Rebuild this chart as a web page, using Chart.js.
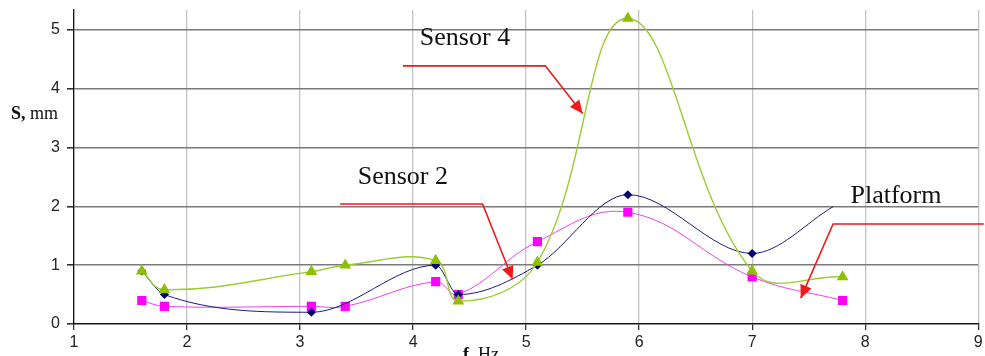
<!DOCTYPE html>
<html>
<head>
<meta charset="utf-8">
<script src="https://cdn.jsdelivr.net/npm/chart.js@4/dist/chart.umd.min.js"></script>
<style>
  html, body { margin: 0; padding: 0; background: #fff; }
  #wrap { width: 985px; height: 356px; position: relative; }
</style>
</head>
<body>
<div id="wrap"><canvas id="c"></canvas></div>
<script>
// Measurement frequencies (Hz)
const freqs = [1.6, 1.8, 3.1, 3.4, 4.2, 4.4, 5.1, 5.9, 7.0, 7.8];

// Displacement S (mm) for each measurement point
const platformFreqs = [1.6, 1.8, 3.1, 4.2, 4.4, 5.1, 5.9, 7.0, 7.72];
const platformS     = [0.9, 0.5, 0.2, 1.0, 0.5, 1.0, 2.2, 1.2, 2.0];
const sensor2S      = [0.4, 0.3, 0.3, 0.3, 0.72, 0.5, 1.4, 1.9, 0.8, 0.4];
const sensor4S      = [0.9, 0.58, 0.89, 1.0, 1.08, 0.39, 1.05, 5.2, 0.9, 0.8];

// Axis ticks
const xTicks = [1, 2, 3, 4, 5, 6, 7, 8, 9];
const yTicks = [0, 1, 2, 3, 4, 5];

// Callout labels with their arrows, given in axis units
const callouts = [
  { text: 'Sensor 4', at: [4.06, 4.86], path: [[3.91, 4.39], [5.17, 4.39], [5.50, 3.58]] },
  { text: 'Sensor 2', at: [3.51, 2.50], path: [[3.355, 2.04], [4.615, 2.04], [4.88, 0.76]] },
  { text: 'Platform', at: [7.87, 2.18], path: [[9.05, 1.70], [7.716, 1.70], [7.43, 0.44]] }
];

const toXY = (xs, ys) => ys.map((y, i) => ({ x: xs[i], y }));

const calloutPlugin = {
  id: 'callouts',
  afterDraw(chart) {
    const { ctx, scales: { x, y } } = chart;
    ctx.save();
    callouts.forEach(c => {
      const pts = c.path.map(p => [x.getPixelForValue(p[0]), y.getPixelForValue(p[1])]);
      ctx.strokeStyle = '#f01818';
      ctx.lineWidth = 1.6;
      ctx.beginPath();
      ctx.moveTo(pts[0][0], pts[0][1]);
      for (let i = 1; i < pts.length; i++) ctx.lineTo(pts[i][0], pts[i][1]);
      ctx.stroke();
      // arrow head
      const a = pts[pts.length - 2], b = pts[pts.length - 1];
      const ang = Math.atan2(b[1] - a[1], b[0] - a[0]);
      const L = 13, W = 6;
      ctx.fillStyle = '#f01818';
      ctx.beginPath();
      ctx.moveTo(b[0], b[1]);
      ctx.lineTo(b[0] - L * Math.cos(ang) + W * Math.sin(ang), b[1] - L * Math.sin(ang) - W * Math.cos(ang));
      ctx.lineTo(b[0] - L * Math.cos(ang) - W * Math.sin(ang), b[1] - L * Math.sin(ang) + W * Math.cos(ang));
      ctx.closePath();
      ctx.fill();
      // label
      ctx.fillStyle = '#111';
      ctx.font = '26px "Liberation Serif", "Times New Roman", serif';
      ctx.textBaseline = 'middle';
      ctx.textAlign = 'left';
      ctx.fillText(c.text, x.getPixelForValue(c.at[0]), y.getPixelForValue(c.at[1]));
    });

    // axis titles: bold symbol, regular unit
    const drawTitle = (bold, rest, px, py) => {
      ctx.textBaseline = 'alphabetic';
      ctx.textAlign = 'left';
      ctx.fillStyle = '#111';
      ctx.font = 'bold 18px "Liberation Serif", serif';
      ctx.fillText(bold, px, py);
      const w = ctx.measureText(bold).width;
      ctx.font = '18px "Liberation Serif", serif';
      ctx.fillText(rest, px + w, py);
    };
    drawTitle('S,', ' mm', 11, 119);
    drawTitle('f,', ' Hz', 463, 360);
    ctx.restore();
  }
};

new Chart(document.getElementById('c'), {
  type: 'line',
  data: {
    datasets: [
      {
        label: 'Platform',
        data: toXY(platformFreqs, platformS),
        borderColor: '#1a1a80',
        backgroundColor: '#00006e',
        borderWidth: 1,
        pointStyle: 'rectRot',
        pointRadius: platformS.map((_, i) => i === platformS.length - 1 ? 0 : 4.5),
        pointBorderWidth: 0,
        cubicInterpolationMode: 'monotone',
        order: 1
      },
      {
        label: 'Sensor 2',
        data: toXY(freqs, sensor2S),
        borderColor: '#f040f0',
        backgroundColor: '#ff00ff',
        borderWidth: 1,
        pointStyle: 'rect',
        pointRadius: 6.5,
        pointBorderWidth: 0,
        tension: 0.4,
        order: 2
      },
      {
        label: 'Sensor 4',
        data: toXY(freqs, sensor4S),
        borderColor: '#9acd32',
        backgroundColor: '#8cc000',
        borderWidth: 1.4,
        pointStyle: 'triangle',
        pointRadius: 6.8,
        pointBorderWidth: 0,
        tension: 0.4,
        order: 0
      }
    ]
  },
  options: {
    responsive: true,
    maintainAspectRatio: false,
    animation: false,
    layout: { padding: { top: 10, right: 6, left: 0, bottom: 0 } },
    plugins: { legend: { display: false }, tooltip: { enabled: false } },
    scales: {
      x: {
        type: 'linear',
        min: 1, max: 9,
        afterBuildTicks: s => { s.ticks = xTicks.map(v => ({ value: v })); },
        afterFit: s => { s.height = 32; s.paddingLeft = 0; s.paddingRight = 0; },
        ticks: { color: '#222', font: { family: '"Liberation Sans", Arial, sans-serif', size: 16 }, padding: 3, maxRotation: 0 },
        grid: { color: '#c4c4c4', lineWidth: 1.3, tickColor: '#333', tickLength: 6 },
        border: { color: '#111', width: 1.3 }
      },
      y: {
        type: 'linear',
        min: 0, max: 5.34,
        afterBuildTicks: s => { s.ticks = yTicks.map(v => ({ value: v })); },
        afterFit: s => { s.width = 74; s.paddingTop = 0; s.paddingBottom = 0; },
        ticks: { color: '#222', font: { family: '"Liberation Sans", Arial, sans-serif', size: 16 }, padding: 7 },
        grid: { color: '#7a7a7a', lineWidth: 1.6, tickColor: '#333', tickLength: 7 },
        border: { color: '#111', width: 1.3 }
      }
    }
  },
  plugins: [calloutPlugin]
});
</script>
</body>
</html>
